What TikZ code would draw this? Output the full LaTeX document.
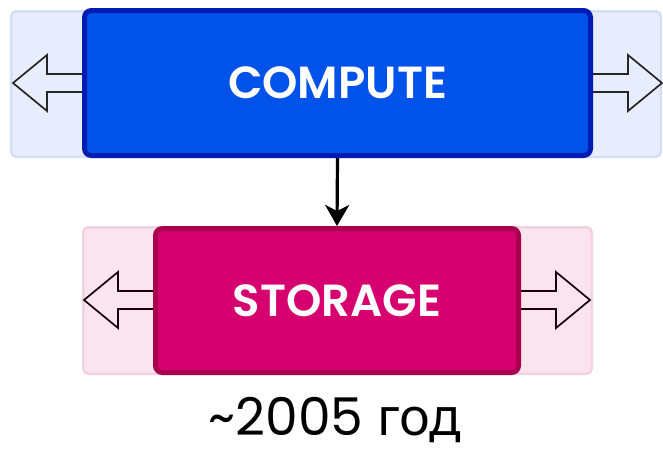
\documentclass[tikz,border=0pt]{standalone}
\usepackage{fontspec}
\setmainfont{Poppins}
\newfontfamily\boxfont{Poppins}[UprightFont=* SemiBold]
\newfontfamily\cyrfont{Noto Sans}
\usetikzlibrary{arrows.meta, positioning}

\definecolor{cblue}{RGB}{0,82,232}
\definecolor{cblueline}{RGB}{0,28,178}
\definecolor{cbluebg}{RGB}{231,237,252}
\definecolor{cbluebgline}{RGB}{213,222,246}
\definecolor{cpink}{RGB}{214,0,110}
\definecolor{cpinkline}{RGB}{168,0,78}
\definecolor{cpinkbg}{RGB}{250,229,239}
\definecolor{cpinkbgline}{RGB}{242,210,223}

% hollow side arrow, drawn from the box edge outwards
\newcommand{\sidearrow}[3]{%
  \draw[fatarrow, draw=#3, shift={(#1)}, xscale=#2]
    (-6,-9) -- (35,-9) -- (35,-28) -- (69,0) -- (35,28) -- (35,9) -- (-6,9);
}

\begin{document}
\begin{tikzpicture}[x=1pt, y=-1pt,
    bgbox/.style={rectangle, draw, line width=2.5pt, rounded corners=5pt, inner sep=0pt},
    mainbox/.style={rectangle, draw, line width=5pt, rounded corners=7pt, inner sep=0pt,
      text=white, font=\boxfont\fontsize{45}{48}\selectfont},
    fatarrow/.style={line width=1.7pt, line join=miter, fill=none},
    arrow/.style={line width=3.2pt, -{Stealth[length=21pt, width=24pt, inset=6pt]}}]

    \useasboundingbox (0,0) rectangle (663,456);

    % Backgrounds
    \node [bgbox, fill=cbluebg, draw=cbluebgline, minimum width=649.5pt, minimum height=145.5pt]
      (computebg) at (336,84) {};
    \node [bgbox, fill=cpinkbg, draw=cpinkbgline, minimum width=508.5pt, minimum height=146.5pt]
      (storagebg) at (337.5,300.5) {};

    % Side arrows
    \coordinate (cw) at (82,83);
    \coordinate (ce) at (593,83);
    \coordinate (sw) at (153,300);
    \coordinate (se) at (521,300);
    \sidearrow{cw}{-1}{black!85}
    \sidearrow{ce}{1}{black!85}
    \sidearrow{sw}{-1}{black!85!cpinkline}
    \sidearrow{se}{1}{black!85!cpinkline}

    % Boxes
    \node [mainbox, fill=cblue, draw=cblueline, minimum width=506pt, minimum height=145pt]
      (compute) at (337.5,83) {COMPUTE};
    \node [mainbox, fill=cpink, draw=cpinkline, minimum width=363pt, minimum height=144pt]
      (storage) at (337,300.5) {STORAGE};

    % Caption
    \node [font=\fontsize{52}{55}\selectfont] (year) at (335,420) {\char"7E 2005 {\cyrfont год}};

    % Arrows
    \draw [arrow] (compute.south) -- (storage.north);

\end{tikzpicture}
\end{document}
